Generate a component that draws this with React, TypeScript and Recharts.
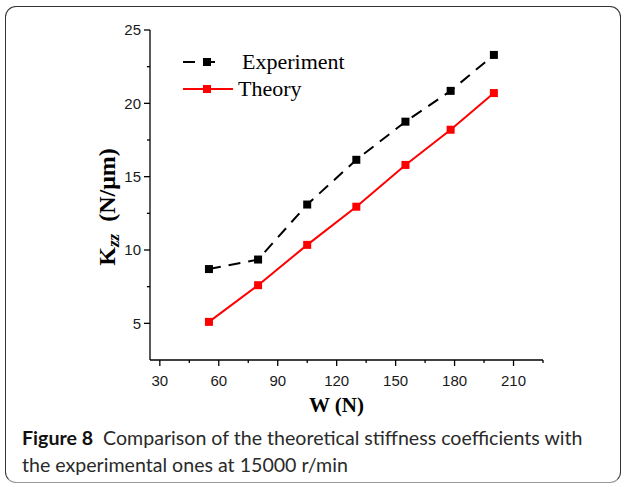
import { LineChart, Line, XAxis, YAxis, Legend } from "recharts";

const loads = [55, 80, 105, 130, 155, 178, 200];
const experiment = [8.7, 9.35, 13.1, 16.15, 18.75, 20.85, 23.3];
const theory = [5.1, 7.6, 10.35, 12.95, 15.8, 18.2, 20.7];

const xMajor = [30, 60, 90, 120, 150, 180, 210];
const xMinor = [45, 75, 105, 135, 165, 195, 225];
const yMajor = [5, 10, 15, 20, 25];
const yMinor = [7.5, 12.5, 17.5, 22.5];

const data = loads.map((w, i) => ({ w, experiment: experiment[i], theory: theory[i] }));

const TICK_FONT = "'Liberation Sans', Arial, sans-serif";
const SERIF = "'Liberation Serif', 'Times New Roman', serif";

const XTick = (props: any) => {
  const { x, y, payload } = props;
  const major = xMajor.includes(payload.value);
  return (
    <g>
      <line x1={x} x2={x} y1={y} y2={y + (major ? 6 : 3)} stroke="#000" strokeWidth={1.3} />
      {major && (
        <text x={x} y={y + 26} textAnchor="middle" fontFamily={TICK_FONT} fontSize={15} fill="#1a1a1a">
          {payload.value}
        </text>
      )}
    </g>
  );
};

const YTick = (props: any) => {
  const { x, y, payload } = props;
  const major = yMajor.includes(payload.value);
  return (
    <g>
      <line x1={x - (major ? 6 : 3)} x2={x} y1={y} y2={y} stroke="#000" strokeWidth={1.3} />
      {major && (
        <text x={x - 9} y={y} dy="0.36em" textAnchor="end" fontFamily={TICK_FONT} fontSize={15} fill="#1a1a1a">
          {payload.value}
        </text>
      )}
    </g>
  );
};

const Square = (color: string, size: number) => (props: any) => {
  const { cx, cy, index } = props;
  if (cx == null || cy == null) return null;
  return <rect key={index} x={cx - size / 2} y={cy - size / 2} width={size} height={size} fill={color} />;
};

const LegendBox = () => (
  <div style={{ fontFamily: SERIF, fontSize: 22, color: "#000", lineHeight: "27px" }}>
    <div style={{ display: "flex", alignItems: "center" }}>
      <svg width={55} height={14}>
        <line x1={0} x2={36} y1={7} y2={7} stroke="#000" strokeWidth={2} strokeDasharray="12 8" />
        <rect x={20} y={3} width={8} height={8} fill="#000" />
      </svg>
      <span style={{ marginLeft: 4 }}>Experiment</span>
    </div>
    <div style={{ display: "flex", alignItems: "center" }}>
      <svg width={55} height={14}>
        <line x1={0} x2={50} y1={7} y2={7} stroke="#ff0000" strokeWidth={2} />
        <rect x={20} y={3} width={8} height={8} fill="#ff0000" />
      </svg>
      <span>Theory</span>
    </div>
  </div>
);

const YLabel = (props: any) => {
  const { viewBox } = props;
  const cx = viewBox.x + viewBox.width - 43;
  const cy = viewBox.y + viewBox.height / 2 + 12;
  return (
    <text
      transform={`rotate(-90 ${cx} ${cy})`}
      x={cx}
      y={cy}
      textAnchor="middle"
      dominantBaseline="central"
      fontFamily={SERIF}
      fontWeight="bold"
      fontSize={24}
      fill="#000"
    >
      K
      <tspan fontStyle="italic" fontSize={17} dy={6}>
        zz
      </tspan>
      <tspan dy={-6}>{"\u00a0\u00a0(N/μm)"}</tspan>
    </text>
  );
};

const XLabel = (props: any) => {
  const { viewBox } = props;
  const cx = viewBox.x + viewBox.width / 2 - 10;
  return (
    <text x={cx} y={412} textAnchor="middle" fontFamily={SERIF} fontWeight="bold" fontSize={21} fill="#000">
      W (N)
    </text>
  );
};

export default function App() {
  return (
    <div style={{ position: "absolute", left: 0, top: 0, width: 624, height: 487, background: "#fff" }}>
      <div
        style={{
          position: "absolute",
          left: 5,
          top: 6,
          width: 616,
          height: 477,
          borderLeft: "1.5px solid #333",
          borderTop: "1.5px solid #333",
          borderRight: "1.5px solid #333",
          borderBottom: "1.5px solid #999",
          borderRadius: 11,
          boxSizing: "border-box",
        }}
      />
      <div style={{ position: "absolute", left: 0, top: 0 }}>
        <LineChart width={600} height={430} data={data} margin={{ top: 30, right: 57, bottom: 30, left: 90 }}>
          <XAxis
            dataKey="w"
            type="number"
            domain={[25, 225]}
            ticks={[...xMajor, ...xMinor].sort((a, b) => a - b)}
            interval={0}
            tickSize={0}
            tickMargin={0}
            tickLine={false}
            tick={<XTick />}
            height={40}
            axisLine={{ stroke: "#000", strokeWidth: 1.3 }}
            allowDataOverflow
            label={<XLabel />}
          />
          <YAxis
            type="number"
            domain={[2.5, 25]}
            ticks={[...yMajor, ...yMinor].sort((a, b) => a - b)}
            interval={0}
            tickSize={0}
            tickMargin={0}
            tickLine={false}
            tick={<YTick />}
            width={60}
            axisLine={{ stroke: "#000", strokeWidth: 1.3 }}
            allowDataOverflow
            label={<YLabel />}
          />
          <Legend
            layout="vertical"
            align="center"
            verticalAlign="middle"
            content={<LegendBox />}
            wrapperStyle={{ position: "absolute", left: 183, top: 48, width: "auto" }}
          />
          <Line
            dataKey="experiment"
            name="Experiment"
            stroke="#000"
            strokeWidth={2}
            strokeDasharray="12 8"
            dot={Square("#000", 8)}
            activeDot={false}
            isAnimationActive={false}
          />
          <Line
            dataKey="theory"
            name="Theory"
            stroke="#ff0000"
            strokeWidth={2}
            dot={Square("#ff0000", 8)}
            activeDot={false}
            isAnimationActive={false}
          />
        </LineChart>
      </div>
      <div
        style={{
          position: "absolute",
          left: 22,
          top: 424,
          width: 598,
          fontFamily: "Lato, 'Open Sans', sans-serif",
          fontSize: 19.6,
          lineHeight: "27px",
          color: "#2a2a2a",
          whiteSpace: "nowrap",
        }}
      >
        <b style={{ color: "#111" }}>Figure 8</b>
        {"\u00a0\u00a0"}
        <span>Comparison of the theoretical stiffness coefficients with</span>
        <br />
        the experimental ones at 15000 r/min
      </div>
    </div>
  );
}
